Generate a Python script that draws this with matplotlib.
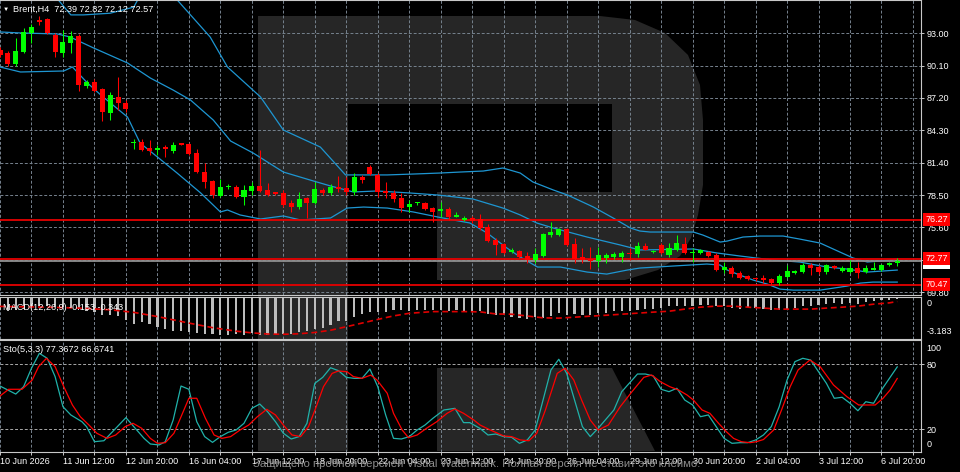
import matplotlib
matplotlib.use("Agg")
from matplotlib import pyplot as plt
from matplotlib import transforms
from matplotlib.patches import Polygon, Rectangle

plt.rcParams['font.family'] = ['Liberation Sans', 'DejaVu Sans']

# Brent H4 candles, one entry per bar (bar 0 = 10 Jun 2026 00:00)
opens = [91.50, 91.23, 90.25, 91.32, 93.03, 94.19, 94.28, 92.85, 91.23, 92.13,
         92.76, 88.27, 88.63, 88.00, 85.85, 87.29, 86.75, 83.16, 83.25, 82.71,
         82.54, 82.80, 82.45, 83.16, 83.07, 82.27, 80.56, 79.76, 78.41, 79.22,
         79.22, 78.32, 78.86, 79.31, 78.95, 78.77, 78.68, 77.78, 77.42, 78.23,
         77.78, 78.95, 78.68, 79.22, 79.13, 78.77, 80.11, 81.01, 80.29, 78.86,
         78.68, 78.23, 77.42, 77.78, 77.78, 77.33, 77.10, 77.24, 76.53, 76.26,
         76.44, 76.35, 75.63, 74.47, 74.11, 73.39, 73.48, 73.03, 72.67, 73.03,
         74.91, 74.91, 75.45, 74.11, 72.94, 72.76, 72.58, 72.85, 72.94, 72.94,
         73.30, 73.21, 73.93, 73.39, 74.02, 73.12, 73.57, 74.11, 73.30, 73.30,
         73.39, 73.12, 71.77, 71.95, 71.51, 71.24, 71.06, 71.02, 70.97, 70.61,
         71.15, 71.51, 71.60, 72.22, 72.04, 71.60, 72.13, 71.69, 71.60, 71.95,
         71.60, 71.77, 71.77, 72.22, 72.39]
highs = [91.80, 91.40, 92.58, 93.48, 93.83, 94.55, 94.40, 93.00, 93.30, 93.21,
         92.90, 88.80, 88.90, 88.10, 87.74, 89.08, 87.00, 83.52, 83.52, 83.43,
         82.98, 82.98, 83.25, 83.20, 83.16, 82.62, 81.37, 79.85, 79.94, 79.45,
         79.40, 79.40, 79.67, 82.54, 79.58, 78.80, 78.95, 78.05, 78.77, 78.30,
         79.67, 79.10, 79.50, 80.20, 80.11, 80.47, 80.29, 81.19, 80.47, 79.67,
         78.95, 78.68, 78.05, 77.90, 77.87, 77.42, 77.87, 77.42, 76.98, 76.62,
         76.62, 76.80, 75.90, 74.64, 74.20, 73.75, 73.57, 73.39, 73.75, 75.09,
         76.08, 75.50, 75.54, 74.64, 73.75, 73.84, 73.84, 73.30, 73.39, 73.48,
         73.75, 74.29, 74.20, 73.60, 74.20, 74.20, 74.91, 74.73, 73.75, 73.66,
         73.50, 73.30, 72.49, 72.13, 71.69, 71.33, 71.15, 71.33, 71.06, 71.42,
         72.22, 71.75, 72.40, 72.40, 72.22, 72.31, 72.22, 72.13, 72.67, 72.49,
         72.22, 72.49, 72.31, 72.49, 72.82]
lows = [90.90, 90.10, 90.10, 91.20, 92.13, 93.74, 92.90, 90.87, 90.87, 91.23,
        87.83, 88.10, 87.70, 85.14, 85.23, 86.12, 85.94, 82.62, 82.45, 82.09,
        82.09, 81.91, 82.27, 82.95, 82.09, 80.47, 79.13, 78.23, 78.32, 79.05,
        78.23, 77.60, 78.50, 78.77, 78.41, 78.50, 77.42, 76.98, 77.24, 76.44,
        77.70, 78.50, 78.50, 78.77, 78.50, 78.50, 79.58, 80.29, 78.32, 78.23,
        77.87, 76.98, 76.98, 77.60, 77.15, 76.08, 76.53, 76.26, 76.50, 76.17,
        75.99, 75.36, 74.29, 73.12, 73.21, 73.30, 72.85, 72.40, 72.40, 72.94,
        74.73, 74.85, 73.93, 72.40, 72.40, 71.86, 72.04, 72.40, 72.76, 72.49,
        72.67, 72.94, 73.55, 73.30, 73.25, 72.94, 73.48, 73.21, 72.49, 73.21,
        72.94, 71.69, 71.51, 71.15, 70.97, 70.88, 70.79, 70.61, 70.43, 70.43,
        71.06, 71.45, 71.51, 71.33, 71.42, 71.42, 71.90, 71.60, 71.51, 71.06,
        71.51, 71.75, 71.69, 72.13, 72.12]
closes = [91.05, 90.25, 91.41, 93.12, 93.56, 94.01, 93.03, 91.32, 92.22, 92.76,
          88.36, 88.63, 87.83, 85.94, 87.47, 86.75, 86.21, 83.25, 82.54, 82.45,
          82.71, 82.62, 82.98, 82.98, 82.18, 80.56, 79.67, 78.50, 79.22, 79.31,
          78.32, 78.95, 79.31, 78.86, 78.50, 78.59, 77.60, 77.42, 78.14, 77.78,
          79.04, 78.68, 79.22, 79.04, 78.77, 80.11, 79.85, 80.38, 78.77, 78.68,
          78.14, 77.33, 77.69, 77.87, 77.24, 76.98, 77.24, 76.53, 76.71, 76.44,
          76.17, 75.54, 74.38, 74.02, 73.30, 73.57, 72.94, 72.67, 73.21, 75.00,
          75.18, 75.45, 74.02, 72.76, 72.67, 72.58, 73.12, 73.12, 73.21, 73.30,
          73.21, 73.93, 73.57, 73.48, 73.30, 73.75, 74.20, 73.30, 73.39, 73.57,
          73.03, 71.77, 72.04, 71.42, 71.06, 70.97, 70.97, 70.90, 70.61, 71.24,
          71.69, 71.69, 72.22, 71.95, 71.60, 72.22, 71.95, 71.95, 71.95, 71.51,
          71.95, 71.95, 72.22, 72.40, 72.57]

# Bollinger bands at these bar positions
bb_up_idx = [0, 4, 7.4, 9.0, 10.6, 14.0, 17.0, 17.5, 19.0, 21.0, 22.5, 26.7, 28.9, 33.1,
             36.0, 40.7, 43.9, 46.7, 49.2, 52.5, 55.9, 58.5, 61.4, 63.9, 66.1, 67.7,
             70.3, 72.1, 75.4, 77.9, 80.1, 81.3, 82.6, 88.1, 89.3, 91.5, 92.4, 94.4,
             96.6, 99.5, 101.6, 104.2, 106.7, 108.4, 110.2, 111.8, 114.0]
bb_up = [97.6, 97.2, 96.0, 94.65, 94.65, 94.8, 95.35, 96.0, 96.8, 96.7, 96.0, 92.67, 89.98,
         87.29, 84.33, 82.80, 80.30, 80.30, 80.30, 80.38, 80.47, 80.56, 80.65, 80.92,
         80.47, 79.67, 78.95, 78.50, 77.42, 76.44, 75.54, 75.27, 75.18, 75.18, 74.91,
         74.28, 74.37, 74.73, 74.82, 74.82, 74.55, 74.19, 73.39, 72.85, 72.49, 72.58,
         72.76]
bb_mid_idx = [0, 2.6, 7.3, 8.9, 11.9, 16.2, 19.1, 22.0, 24.2, 27.1, 29.3, 32.2, 36.0,
              39.8, 42.0, 44.9, 47.9, 52.1, 55.6, 60.1, 63.9, 66.1, 68.2, 70.3, 74.6,
              78.8, 81.3, 88.1, 91.1, 94.0, 98.2, 101.6, 105.1, 107.6, 110.2, 114.0]
bb_mid = [93.12, 93.03, 92.94, 92.67, 91.68, 90.34, 88.99, 87.91, 87.02, 85.22, 83.34,
          82.25, 80.56, 79.76, 79.31, 78.77, 78.86, 78.68, 78.50, 78.14, 77.33, 76.71,
          75.99, 75.54, 74.73, 74.02, 73.57, 73.66, 73.30, 73.03, 72.67, 72.49, 72.04,
          71.86, 71.59, 71.77]
bb_low_idx = [0, 2.6, 8.1, 9.2, 11.1, 12.8, 16.2, 17.8, 20.0, 22.5, 25.5, 28.0, 28.9,
              30.5, 33.1, 36.0, 38.2, 42.0, 44.1, 46.2, 49.2, 52.5, 55.6, 57.6, 59.7,
              61.9, 64.4, 66.1, 68.3, 71.2, 74.6, 77.1, 79.7, 81.3, 85.5, 89.8, 91.5,
              92.4, 94.0, 95.7, 97.5, 99.1, 100.8, 104.2, 107.6, 109.3, 110.9, 114.0]
bb_low = [89.98, 89.53, 89.62, 89.98, 88.55, 87.47, 85.49, 83.16, 81.91, 80.47, 78.68,
          76.98, 77.16, 76.71, 76.35, 76.62, 76.26, 76.44, 77.33, 77.42, 77.33, 76.98,
          76.53, 76.26, 75.99, 75.09, 73.75, 72.94, 72.04, 72.04, 71.59, 71.41, 71.77,
          71.95, 72.13, 72.31, 72.22, 71.77, 71.32, 70.87, 70.51, 70.06, 69.97, 69.97,
          70.33, 70.60, 70.69, 70.69]

# horizontal levels and current bid
levels = [76.27, 72.77, 70.47]
bid = 72.57
price_ticks = [93.00, 90.10, 87.20, 84.30, 81.40, 78.50, 75.60, 72.70, 69.80]

# MACD(12,26,9): main as histogram (one per bar), signal read at some bars
macd_main = [-1.00, -1.05, -1.00, -0.90, -0.80, -0.70, -0.70, -0.78, -0.80, -0.78,
             -0.95, -1.05, -1.15, -1.35, -1.40, -1.45, -1.80,
             -2.05, -1.95, -2.10, -2.30, -2.45, -2.62, -2.60, -2.70, -2.75, -2.80,
             -2.85, -2.90, -2.90, -2.85, -2.92, -2.75, -2.92, -2.95, -2.80, -2.85,
             -2.85, -2.72, -2.62,
             -2.48, -2.35, -2.12, -1.85, -1.82, -1.55, -1.30, -1.15, -1.12, -1.12,
             -1.02, -1.02, -1.10, -1.02, -1.02, -1.02, -1.00, -1.08, -1.02,
             -1.09, -1.09, -1.09, -1.32, -1.40, -1.40, -1.55, -1.63, -1.71, -1.55,
             -1.63, -1.48, -1.24, -1.40, -1.32, -1.40, -1.40, -1.24, -1.24, -1.09,
             -1.09, -1.09, -1.01, -0.93, -0.93, -0.85, -0.70, -0.70, -0.70, -0.70,
             -0.62, -0.62, -0.70, -0.70, -0.85, -0.93, -0.85, -0.85, -0.93, -1.01,
             -1.01, -0.93, -0.85, -0.70, -0.70, -0.62, -0.54, -0.47, -0.54, -0.47,
             -0.54, -0.39, -0.31, -0.23, -0.23, -0.153]
signal_idx = [0, 6, 10, 14, 17, 20, 22, 24, 27, 30, 32, 34, 36, 38, 40, 42, 44, 46, 48,
              50, 52, 55, 59, 61, 63, 65, 67, 69, 71, 73, 75, 77, 79, 81, 83, 85, 87,
              89, 91, 93, 95, 97, 99, 101, 103, 105, 107, 109, 111, 113, 114]
signal = [-0.72, -0.78, -0.85, -0.98, -1.18, -1.50, -1.75, -2.00, -2.35, -2.62, -2.75,
          -2.84, -2.86, -2.82, -2.72, -2.55, -2.28, -2.00, -1.72, -1.45, -1.25, -1.12,
          -1.12, -1.14, -1.30, -1.32, -1.46, -1.60, -1.62, -1.55, -1.47, -1.40, -1.32,
          -1.24, -1.16, -1.09, -0.93, -0.78, -0.70, -0.70, -0.78, -0.85, -0.93, -0.93,
          -0.93, -0.85, -0.78, -0.70, -0.55, -0.45, -0.343]
macd_min = -3.183

# Stochastic(5,3,3): %K and %D
sto_k_idx = [0, 2, 3, 4, 5, 6, 7, 8, 9, 10.4, 11, 12, 13.2, 14.5, 16, 17, 18.3, 19.1,
             20.2, 21, 22, 23, 24, 25, 26, 27, 28, 29, 30, 31, 32, 33, 34, 35, 36, 37,
             38, 39, 40, 41, 42, 43, 44, 45, 46, 47, 48, 49, 50, 51, 52, 53, 54, 55,
             56.4, 57.8, 58.9, 59.7, 61, 62, 63, 64, 65, 66, 67, 68, 69, 70, 71, 72,
             73, 74, 75, 76, 78, 79, 81, 82, 83, 84, 85, 86, 87, 88, 89, 90, 91, 92,
             93, 94, 95, 96, 97, 98, 99, 100, 101, 102, 103, 104, 105, 106, 107, 108,
             109, 110, 111, 112, 114]
sto_k = [59.7, 52.3, 59.1, 76.1, 89.9, 85.3, 68.4, 40.6, 33.0, 26.8, 22.2, 8.3, 9.2,
         19.1, 30.5, 22.2, 11.4, 6.2, 5.3, 8.3, 28.3, 59.7, 56.7, 26.8, 13.0, 7.7, 13.0,
         17.0, 19.1, 25.3, 39.1, 43.1, 36.0, 26.8, 16.1, 10.8, 13.0, 25.3, 62.2, 67.7,
         76.6, 73.9, 67.7, 66.8, 66.8, 75.4, 59.1, 33.0, 11.4, 10.8, 13.0, 19.1, 23.7,
         29.9, 37.6, 39.1, 25.9, 25.9, 20.5, 14.5, 15.4, 13.0, 12.4, 6.8, 9.9, 19.1,
         46.8, 74.5, 84.4, 71.4, 46.8, 22.2, 13.0, 20.7, 37.6, 54.5, 70.8, 70.8, 69.0,
         56.7, 54.5, 57.6, 46.8, 42.2, 31.4, 33.0, 22.2, 11.4, 6.8, 7.4, 7.4, 9.9, 14.5,
         22.2, 40.6, 65.3, 82.2, 85.3, 83.7, 72.9, 62.2, 48.4, 49.3, 43.8, 36.9, 45.2,
         43.8, 56.1, 77.37]
sto_d_idx = [0, 1.1, 2.8, 4.1, 4.9, 5.9, 7.0, 8.1, 9.2, 10.2, 11.3, 12.3, 13.6, 14.7,
             15.9, 16.9, 18.0, 19.1, 20.0, 21.0, 22.1, 23.1, 24.0, 25.0, 26.1, 27.2,
             28.2, 29.3, 30.5, 31.6, 32.7, 33.9, 35.0, 36.0, 37.1, 38.2, 39.2, 40.1,
             41.1, 42.2, 43.0, 44.1, 44.9, 46.0, 47.1, 47.9, 49.2, 50.0, 51.1, 51.9,
             53.0, 54.2, 55.5, 56.8, 57.8, 58.9, 60.2, 61.0, 62.3, 64.0, 65.0, 66.1,
             67.2, 68.2, 69.3, 70.8, 71.8, 72.9, 73.9, 75.0, 76.0, 77.3, 78.8, 80.3,
             81.8, 82.8, 83.9, 85.1, 86.2, 87.3, 88.1, 89.2, 90.2, 91.3, 92.3, 93.2,
             94.2, 95.3, 96.1, 97.0, 98.3, 99.3, 100.4, 101.4, 102.9, 104.2, 105.9,
             107.6, 109.1, 110.1, 111.2, 112.2, 113.1, 114]
sto_d = [50.5, 56.7, 56.7, 65.3, 77.6, 85.3, 77.6, 59.1, 42.2, 31.4, 23.7, 16.1, 11.4,
         14.5, 22.2, 25.3, 20.7, 11.4, 6.8, 7.4, 16.1, 33.0, 48.4, 48.4, 29.9, 14.5,
         11.4, 13.0, 19.1, 23.7, 31.4, 38.2, 33.0, 23.7, 14.5, 13.0, 22.2, 39.1, 59.1,
         71.4, 73.6, 72.9, 68.4, 66.8, 69.8, 65.3, 53.0, 34.5, 19.1, 12.0, 14.5, 20.7,
         26.8, 34.5, 38.5, 34.5, 28.3, 23.7, 19.1, 13.6, 13.0, 9.9, 9.2, 16.1, 37.6,
         71.4, 76.1, 65.3, 46.8, 28.3, 19.1, 23.7, 40.6, 54.5, 67.7, 69.9, 63.7, 59.1,
         56.1, 51.4, 46.8, 37.6, 34.5, 25.3, 17.5, 11.4, 8.3, 7.4, 8.3, 10.3, 19.1,
         37.6, 59.1, 74.5, 83.7, 77.6, 60.7, 49.9, 42.2, 42.2, 42.2, 48.4, 56.1, 66.67]

date_labels = ['10 Jun 2026', '11 Jun 12:00', '12 Jun 20:00', '16 Jun 04:00',
               '17 Jun 12:00', '18 Jun 20:00', '22 Jun 04:00', '23 Jun 12:00',
               '24 Jun 20:00', '26 Jun 04:00', '29 Jun 12:00', '30 Jun 20:00',
               '2 Jul 04:00', '3 Jul 12:00', '6 Jul 20:00']

# colours
BULL = '#00ff00'
BEAR = '#ff0000'
BAND = '#1e96d2'
GRID = '#76828e'
EDGE = '#c8c8c8'
LOGO = '#262626'
FS = 6.5

W, H = 960, 472
fig = plt.figure(figsize=(W / 100, H / 100), dpi=100, facecolor='black')


def px_box(x0, y0, x1, y1):
    # pixel box, origin top-left -> figure fraction
    return [x0 / W, 1 - y1 / H, (x1 - x0) / W, (y1 - y0) / H]


# faint "R" logo behind the chart
bg = fig.add_axes([0, 0, 1, 1])
bg.set_xlim(0, W)
bg.set_ylim(H, 0)
bg.axis('off')
bg.add_patch(Rectangle((258, 16), 90, 435, color=LOGO, lw=0))
bg.add_patch(Polygon([(348, 16), (600, 16), (635, 20), (665, 33), (688, 55), (700, 85),
                      (703, 120), (703, 185), (698, 215), (691, 238), (680, 256),
                      (658, 270), (625, 280), (437, 280), (437, 192), (612, 192),
                      (612, 104), (348, 104)], closed=True, color=LOGO, lw=0))
bg.add_patch(Polygon([(437, 368), (612, 368), (655, 451), (437, 451)],
                     closed=True, color=LOGO, lw=0))

ax = fig.add_axes(px_box(0, 0, 921, 295))
macd_ax = fig.add_axes(px_box(0, 297, 921, 338.5), sharex=ax)
sto_ax = fig.add_axes(px_box(0, 340, 921, 451.5), sharex=ax)

for a in (ax, macd_ax, sto_ax):
    a.set_facecolor('none')
    for side in ('top', 'right', 'bottom'):
        a.spines[side].set_color(EDGE)
        a.spines[side].set_linewidth(0.8)
    a.spines['left'].set_visible(False)

ax.set_xlim(0.063, 117.02)

# x grid every 4 bars, date labels every 8 bars
sto_ax.set_xticks(range(0, 113, 8))
sto_ax.set_xticks(range(4, 117, 8), minor=True)
sto_ax.set_xticklabels(date_labels, ha='left', fontsize=FS, color='white')
sto_ax.tick_params(axis='x', which='both', direction='out', length=2.2, width=0.7,
                   color=EDGE, pad=1.5)
for a in (ax, macd_ax):
    a.tick_params(axis='x', which='both', length=0, labelbottom=False)
for a in (ax, macd_ax, sto_ax):
    a.grid(True, axis='x', which='both', color=GRID, ls=(0, (3, 2)), lw=0.7, zorder=1)

# ---- main price panel
ax.set_ylim(69.533, 95.986)
ax.yaxis.tick_right()
ax.set_yticks(price_ticks)
ax.set_yticklabels([f'{p:.2f}' for p in price_ticks])
ax.tick_params(axis='y', colors=EDGE, labelcolor='white', labelsize=FS, length=2.2,
               width=0.7, pad=1.5)
ax.grid(True, axis='y', color=GRID, ls=(0, (3, 2)), lw=0.7, zorder=1)

ax.plot(bb_up_idx, bb_up, color=BAND, lw=0.9, zorder=2)
ax.plot(bb_mid_idx, bb_mid, color=BAND, lw=0.9, zorder=2)
ax.plot(bb_low_idx, bb_low, color=BAND, lw=0.9, zorder=2)

for lv in levels:
    ax.axhline(lv, color='#e60000', lw=1.3, zorder=2.5)
ax.axhline(bid, color='#8f8f8f', lw=1.3, zorder=2.4)

bars = list(range(len(closes)))
colors = [BULL if c >= o else BEAR for o, c in zip(opens, closes)]
body_low = [min(o, c) for o, c in zip(opens, closes)]
body_h = [max(abs(c - o), 0.07) for o, c in zip(opens, closes)]
ax.vlines(bars, lows, highs, colors=colors, lw=0.75, zorder=3)
ax.bar(bars, body_h, bottom=body_low, width=0.64, color=colors, lw=0, zorder=4)

lab = transforms.blended_transform_factory(ax.transAxes, ax.transData)
ax.text(1.0048, bid - 0.12, f'{bid:.2f}', transform=lab, color='black', fontsize=FS,
        va='center', ha='left', clip_on=False, zorder=5,
        bbox=dict(boxstyle='square,pad=0.22', fc='white', ec='none'))
for lv in levels:
    ax.text(1.0048, lv, f'{lv:.2f}', transform=lab, color='white', fontsize=FS,
            va='center', ha='left', clip_on=False, zorder=6,
            bbox=dict(boxstyle='square,pad=0.22', fc='#ff0000', ec='none'))

# ---- MACD panel
macd_ax.set_ylim(macd_min, 0)
macd_ax.set_yticks([])
macd_ax.bar(bars, macd_main, width=0.28, color='#bdbdbd', lw=0, zorder=2)
macd_ax.plot(signal_idx, signal, color='#e00000', lw=1.2, ls=(0, (3.5, 2.2)), zorder=3)
mtr = transforms.blended_transform_factory(macd_ax.transAxes, macd_ax.transData)
macd_ax.annotate('0', xy=(1.0, 0), xycoords=mtr, xytext=(4, -1.5),
                 textcoords='offset points', va='top', ha='left', color='white',
                 fontsize=FS, annotation_clip=False)
macd_ax.annotate(f'{macd_min:.3f}', xy=(1.0, macd_min), xycoords=mtr, xytext=(4, 1.5),
                 textcoords='offset points', va='bottom', ha='left', color='white',
                 fontsize=FS, annotation_clip=False)

# ---- Stochastic panel
sto_ax.set_ylim(-0.74, 102.2)
sto_ax.yaxis.tick_right()
sto_ax.set_yticks([20, 80])
sto_ax.set_yticklabels(['20', '80'])
sto_ax.tick_params(axis='y', colors=EDGE, labelcolor='white', labelsize=FS, length=2.2,
                   width=0.7, pad=1.5)
for lv in (20, 80):
    sto_ax.axhline(lv, color='#a8a8a8', ls=(0, (3, 2)), lw=0.7, zorder=1)
sto_ax.plot(sto_k_idx, sto_k, color='#20b2aa', lw=0.9, zorder=3)
sto_ax.plot(sto_d_idx, sto_d, color='#ff0000', lw=0.9, zorder=3)
str_ = transforms.blended_transform_factory(sto_ax.transAxes, sto_ax.transData)
sto_ax.annotate('100', xy=(1.0, 100), xycoords=str_, xytext=(4, -1.5),
                textcoords='offset points', va='top', ha='left', color='white',
                fontsize=FS, annotation_clip=False)
sto_ax.annotate('0', xy=(1.0, 0), xycoords=str_, xytext=(4, 1.5),
                textcoords='offset points', va='bottom', ha='left', color='white',
                fontsize=FS, annotation_clip=False)

# ---- window captions
fig.text(3 / W, 1 - 9.5 / H, '\u25bc', color='white', fontsize=4.5, va='center')
fig.text(13 / W, 1 - 9.5 / H, 'Brent,H4  72.39 72.82 72.12 72.57', color='white',
         fontsize=6.6, va='center')
fig.text(3 / W, 1 - 307 / H, 'MACD(12,26,9) -0.153 -0.343', color='white',
         fontsize=6.6, va='center')
fig.text(3 / W, 1 - 350 / H, 'Sto(5,3,3) 77.3672 66.6741', color='white',
         fontsize=6.6, va='center')
# trial watermark stamp, overlapping the date row as in the original
fig.text(253 / W, 1 - 464 / H,
         'Защищено пробной версией Visual Watermark. Полная версия не ставит это клеймо.',
         color='#8c8c8c', fontsize=8.2, va='center')

fig.savefig('out.png', dpi=100, facecolor='black')
